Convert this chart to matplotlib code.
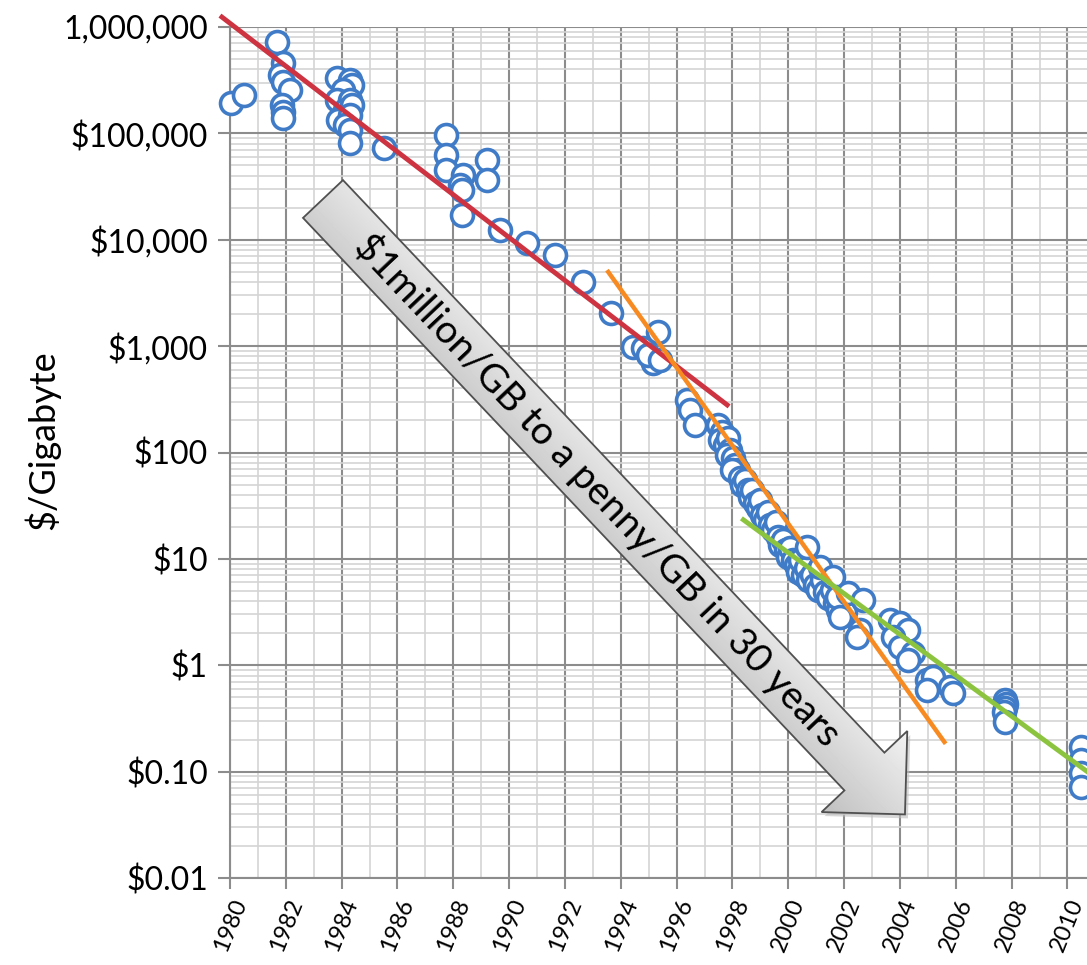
import numpy as np
import matplotlib.pyplot as plt
from matplotlib.patches import Polygon
from matplotlib.ticker import FixedLocator, NullFormatter

plt.rcParams['font.family'] = ['Lato', 'DejaVu Sans']

# hard drive price per gigabyte
years = [
    1980.04, 1980.50, 1981.68, 1981.90, 1981.79, 1981.90, 1982.15, 1981.86, 1981.90, 1981.90,
    1983.84, 1984.30, 1984.37, 1984.05, 1983.84, 1984.30, 1984.12, 1984.37, 1983.87, 1984.30,
    1984.12, 1984.30, 1984.30, 1985.52,
    1987.74, 1987.74, 1987.74, 1988.35, 1988.24, 1988.32, 1988.32, 1989.21, 1989.21, 1989.68,
    1990.65, 1991.65, 1992.65, 1993.66,
    1994.44, 1994.80, 1995.34, 1995.16, 1994.98, 1995.41,
    1996.38, 1996.49, 1996.67,
    1997.49, 1997.63, 1997.56, 1997.74, 1997.85, 1997.92, 1997.81, 1998.03, 1998.10, 1998.21,
    1997.99, 1998.28, 1998.35, 1998.46, 1998.57, 1998.64, 1998.71, 1998.82, 1998.92, 1998.99,
    1999.07, 1999.18, 1999.28, 1999.35, 1999.46, 1999.57, 1999.64, 1999.71, 1999.82, 1999.93,
    2000.00, 2000.07, 2000.18, 2000.29, 2000.36, 2000.43, 2000.54, 2000.65, 2000.72, 2000.86,
    2000.97, 2001.08, 2001.22, 2001.33, 2001.43, 2001.58, 2001.68, 2001.79, 2001.94, 2002.04,
    2000.68, 2001.15, 2001.61, 2001.76, 2002.15, 2002.69, 2001.86, 2002.58, 2002.47,
    2003.66, 2004.01, 2004.27, 2003.76, 2004.01, 2004.48, 2004.27, 2004.98, 2005.20, 2005.81,
    2005.91, 2004.98,
    2007.78, 2007.81, 2007.78, 2007.74, 2007.78,
    2010.47, 2010.47, 2010.47, 2010.47,
]
prices = [
    193000, 230000, 723000, 459000, 354000, 304000, 256000, 185000, 159000, 140000,
    332000, 318000, 285000, 256000, 206000, 206000, 166000, 185000, 134000, 149000,
    120000, 108000, 81000, 73000,
    96600, 62700, 45300, 40600, 32700, 29400, 17100, 56200, 36500, 12400,
    9330, 7200, 4010, 2050,
    985, 962, 1360, 695, 826, 742,
    312, 251, 182,
    182, 156, 131, 118, 137, 106, 94.8, 88.9, 76.4, 68.5,
    68.5, 57.7, 49.6, 55.2, 44.5, 38.3, 44.5, 33.6, 30.1, 35.8,
    25.9, 23.3, 27.7, 20.9, 18.7, 22.3, 16.1, 13.5, 15.1, 12.2,
    10.4, 12.7, 9.8, 8.8, 7.55, 9.8, 7.08, 8.2, 6.35, 7.08,
    5.7, 5.1, 6.35, 4.9, 4.3, 5.1, 3.86, 3.3, 4.1, 3.18,
    13.0, 8.4, 6.8, 4.4, 4.8, 4.1, 2.85, 2.15, 1.85,
    2.67, 2.5, 2.15, 1.85, 1.49, 1.31, 1.12, 0.73, 0.78, 0.63,
    0.55, 0.59,
    0.473, 0.434, 0.398, 0.365, 0.294,
    0.171, 0.129, 0.0975, 0.072,
]

# trend lines (end points)
red_years, red_prices = [1979.71, 1997.81], [1.24e6, 280]
orange_years, orange_prices = [1993.55, 2005.59], [4980, 0.19]
green_years, green_prices = [1998.39, 2010.72], [23.3, 0.0995]

y_ticks = [0.01, 0.1, 1, 10, 100, 1000, 10000, 100000, 1000000]
y_labels = ['$0.01', '$0.10', '$1', '$10', '$100', '$1,000', '$10,000', '$100,000', '1,000,000']
x_ticks = list(range(1980, 2011, 2))

W, H = 1087, 965
fig = plt.figure(figsize=(W / 100, H / 100), dpi=100)
ax = fig.add_axes([230 / W, 87 / H, 857 / W, 851 / H])

ax.set_yscale('log')
ax.set_xlim(1980, 2010.7)
ax.set_ylim(0.01, 1e6)

ax.yaxis.set_major_locator(FixedLocator(y_ticks))
ax.set_yticklabels(y_labels)
ax.yaxis.set_minor_locator(FixedLocator([m * 10.0 ** e for e in range(-2, 6) for m in range(2, 10)]))
ax.yaxis.set_minor_formatter(NullFormatter())
ax.xaxis.set_major_locator(FixedLocator(x_ticks))
ax.xaxis.set_minor_locator(FixedLocator(list(range(1981, 2011, 2))))
ax.set_xticklabels([str(y) for y in x_ticks], rotation=68, ha='center')

ax.grid(which='major', color='#8c8c8c', lw=1.5)
ax.grid(which='minor', color='#d4d4d4', lw=1.2)
ax.set_axisbelow(True)

ax.tick_params(axis='y', which='major', direction='out', length=9, width=1.5,
               color='#8c8c8c', labelsize=23, pad=7)
ax.tick_params(axis='x', which='major', direction='out', length=8, width=1.5,
               color='#8c8c8c', labelsize=17, pad=5)
ax.tick_params(which='minor', length=0)
for s in ['top', 'right']:
    ax.spines[s].set_visible(False)
for s in ['left', 'bottom']:
    ax.spines[s].set_color('#8c8c8c')
    ax.spines[s].set_linewidth(1.5)

ax.scatter(years, prices, s=250, facecolors='white', edgecolors='#3f7bc6',
           linewidths=2.6, zorder=3, clip_on=False)

ax.plot(red_years, red_prices, color='#cd3340', lw=3.5, zorder=4, clip_on=False)
ax.plot(orange_years, orange_prices, color='#f78b22', lw=3.2, zorder=4, clip_on=False)
ax.plot(green_years, green_prices, color='#8cc43f', lw=3.5, zorder=4, clip_on=False)

fig.text(42 / W, 1 - 440 / H, '$/Gigabyte', rotation=90, ha='center', va='center', fontsize=26)

# big annotation arrow, laid out in figure pixels
ov = fig.add_axes([0, 0, 1, 1])
ov.set_xlim(0, W)
ov.set_ylim(H, 0)
ov.axis('off')

sx, sy = 323, 199
ang = np.deg2rad(46.6)
ux, uy = np.cos(ang), np.sin(ang)
nx, ny = -uy, ux
body_len, head_len = 788, 59
hw, hh = 27.5, 59
bx, by = sx + body_len * ux, sy + body_len * uy
pts = [
    (sx - hw * nx, sy - hw * ny),
    (bx - hw * nx, by - hw * ny),
    (bx - hh * nx, by - hh * ny),
    (bx + head_len * ux, by + head_len * uy),
    (bx + hh * nx, by + hh * ny),
    (bx + hw * nx, by + hw * ny),
    (sx + hw * nx, sy + hw * ny),
]
shadow = Polygon([(px + 3, py + 4) for px, py in pts], closed=True,
                 facecolor='#bdbdbd', edgecolor='none', alpha=0.6)
ov.add_patch(shadow)
arrow = Polygon(pts, closed=True, facecolor='none', edgecolor='#505050', lw=1.3, zorder=3)
ov.add_patch(arrow)

gx, gy = np.meshgrid(np.arange(W) + 0.5, np.arange(H) + 0.5)
t = ((gx - sx) * nx + (gy - sy) * ny) / hh
t = np.clip((t + 1) / 2, 0, 1)
shade = 0.95 - 0.2 * t
grad = ov.imshow(shade, cmap='gray', vmin=0, vmax=1, extent=(0, W, H, 0),
                 interpolation='bilinear', zorder=2, aspect='auto')
grad.set_clip_path(arrow)

tcx, tcy = sx + 400 * ux, sy + 400 * uy
ov.text(tcx, tcy, '$1million/GB to a penny/GB in 30 years', rotation=-46.6,
        rotation_mode='anchor', ha='center', va='center', fontsize=28, zorder=4)

fig.savefig('out.png', dpi=100)
